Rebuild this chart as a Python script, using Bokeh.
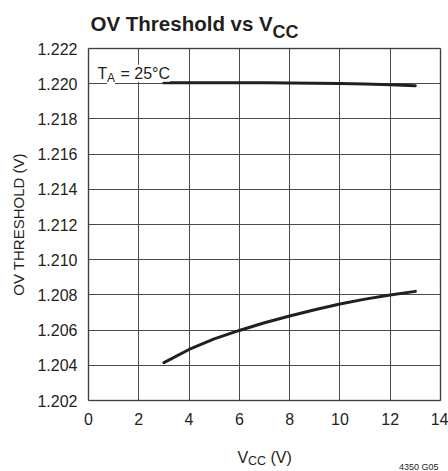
from bokeh.plotting import figure
from bokeh.models import Label, FixedTicker, Range1d, BoxAnnotation, Grid
from bokeh.embed import file_html
from bokeh.resources import INLINE

# ---- data ----
vcc = [3, 4, 5, 6, 7, 8, 9, 10, 11, 12, 13]
ov_upper = [1.22005, 1.22005, 1.22005, 1.22005, 1.22005, 1.22004, 1.22003, 1.22001, 1.21998, 1.21994, 1.21989]
ov_lower = [1.20415, 1.20490, 1.20550, 1.20598, 1.20642, 1.20680, 1.20716, 1.20748, 1.20776, 1.20800, 1.20820]
x_ticks = [0, 2, 4, 6, 8, 10, 12, 14]
x_tick_labels = ["0", "2", "4", "6", "8", "10", "12", "14"]
y_ticks = [1.202, 1.204, 1.206, 1.208, 1.210, 1.212, 1.214, 1.216, 1.218, 1.220, 1.222]
y_tick_labels = ["1.202", "1.204", "1.206", "1.208", "1.210", "1.212", "1.214", "1.216", "1.218", "1.220", "1.222"]

INK = "#231f20"
FONT = "Liberation Sans"
W, H = 448, 471
# plot box placement on the canvas (pixels)
BOX_L, BOX_R, BOX_T, BOX_B = 88, 440, 48, 400
x0, x1 = x_ticks[0], x_ticks[-1]
y0, y1 = y_ticks[0], y_ticks[-1]
kx = (x1 - x0) / (BOX_R - BOX_L)
ky = (y1 - y0) / (BOX_B - BOX_T)

p = figure(width=W, height=H, output_backend="svg", toolbar_location=None,
           x_range=Range1d(x0 - BOX_L * kx, x1 + (W - BOX_R) * kx),
           y_range=Range1d(y0 - (H - BOX_B) * ky, y1 + BOX_T * ky),
           min_border=0)
p.title.visible = False
p.outline_line_color = None

for ax in (p.xaxis, p.yaxis):
    ax.axis_line_color = None
    ax.major_tick_line_color = None
    ax.minor_tick_line_color = None
    ax.major_tick_in = 0
    ax.major_tick_out = 0
    ax.major_label_text_font = FONT
    ax.major_label_text_font_size = "16px"
    ax.major_label_text_color = INK

p.xaxis.fixed_location = y0
p.xaxis.bounds = (x0, x1)
p.xaxis.ticker = FixedTicker(ticks=x_ticks)
p.xaxis.major_label_overrides = {t: l for t, l in zip(x_ticks, x_tick_labels)}
p.xaxis.major_label_standoff = 12

p.yaxis.fixed_location = x0
p.yaxis.bounds = (y0, y1)
p.yaxis.ticker = FixedTicker(ticks=y_ticks)
p.yaxis.major_label_overrides = {t: l for t, l in zip(y_ticks, y_tick_labels)}
p.yaxis.major_label_standoff = 11
p.yaxis.axis_label = "OV THRESHOLD (V)"
p.yaxis.axis_label_text_font = FONT
p.yaxis.axis_label_text_font_size = "15px"
p.yaxis.axis_label_text_font_style = "normal"
p.yaxis.axis_label_text_color = INK
p.yaxis.axis_label_standoff = 7

p.xgrid.ticker = FixedTicker(ticks=x_ticks)
p.ygrid.ticker = FixedTicker(ticks=y_ticks)
if "cross_bounds" in Grid.properties():
    p.xgrid.cross_bounds = (y0, y1)
    p.ygrid.cross_bounds = (x0, x1)
    for g in (p.xgrid, p.ygrid):
        g.grid_line_color = "#4a4a4a"
        g.grid_line_width = 1
else:
    p.xgrid.visible = False
    p.ygrid.visible = False
    p.segment(x0=x_ticks, y0=[y0] * len(x_ticks), x1=x_ticks, y1=[y1] * len(x_ticks),
              line_color="#4a4a4a", line_width=1)
    p.segment(x0=[x0] * len(y_ticks), y0=y_ticks, x1=[x1] * len(y_ticks), y1=y_ticks,
              line_color="#4a4a4a", line_width=1)

p.add_layout(BoxAnnotation(left=x0, right=x1, bottom=y0, top=y1, fill_alpha=0,
                           line_color=INK, line_width=2, level="underlay"))

p.line(vcc, ov_upper, line_color=INK, line_width=3, line_cap="round", line_join="round")
p.line(vcc, ov_lower, line_color=INK, line_width=3, line_cap="round", line_join="round")


def lab(text, px, py, size, font=FONT, style="normal", **kw):
    # px, py: canvas pixel position (from top-left) of the text anchor
    l = Label(x=px, y=H - py, x_units="screen", y_units="screen", text=text,
              text_font=font, text_font_size=size, text_font_style=style,
              text_color=INK, text_baseline="alphabetic", **kw)
    p.add_layout(l)
    return l

# title
lab("OV Threshold vs V", 90, 23.3, "20.5px", style="bold")
lab("CC", 272, 31, "18px", style="bold")

# annotation box
lab("T", 97, 72.7, "16px", background_fill_color="white")
lab("A", 106.5, 77, "12px", background_fill_color="white")
lab("= 25°C", 120, 72.7, "16px", background_fill_color="white")

# x axis label
lab("V", 237, 456.7, "16px")
lab("CC", 247.5, 460.5, "12.5px")
lab("(V)", 270, 456.7, "16px")

# figure code
lab("4350 G05", 438, 466, "9px", text_align="right")

open("out.html", "w").write(file_html(p, INLINE))
